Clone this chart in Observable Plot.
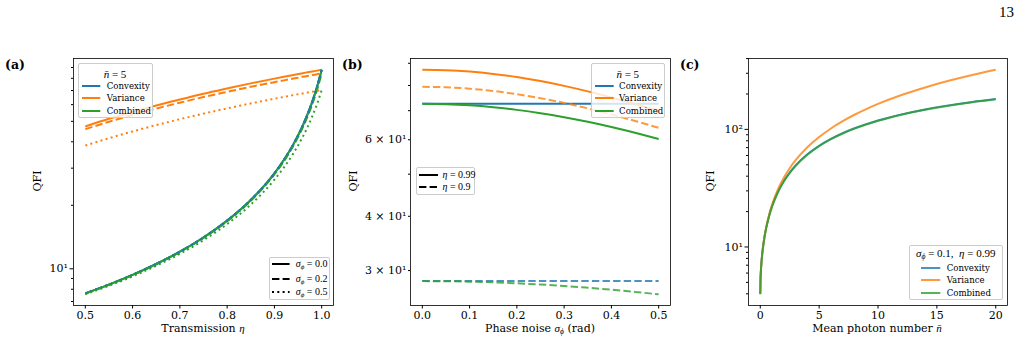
<!DOCTYPE html>
<html>
<head>
<meta charset="utf-8">
<script src="https://cdn.jsdelivr.net/npm/d3@7"></script>
<script src="https://cdn.jsdelivr.net/npm/@observablehq/plot@0.6"></script>
<style>
  body { margin: 0; background: #fff; }
  #fig { position: relative; width: 1020px; height: 344px; overflow: hidden;
         font-family: "DejaVu Serif", serif; color: #000; background: #fff; }
  .panel { position: absolute; top: 0; }
  svg.panel text { font-family: "DejaVu Serif", serif !important; font-size: 11px !important; fill: #000; }
  .tag { position: absolute; font-weight: bold; font-size: 12.5px; line-height: 14px; }
  .xlab { position: absolute; font-size: 11px; line-height: 13px; transform: translateX(-50%); white-space: nowrap; }
  .ylab { position: absolute; font-size: 11px; line-height: 13px; white-space: nowrap;
          transform: translate(-50%, -50%) rotate(-90deg); }
  .legend { position: absolute; box-sizing: border-box; background: rgba(255,255,255,0.8);
            border: 1px solid #ccc; border-radius: 2px; font-size: 8.6px; }
  .legend .row { position: absolute; line-height: 12px; white-space: nowrap; }
  .legend .ttl { position: absolute; left: 0; right: 0; text-align: center; line-height: 12px; font-size: 11px; white-space: nowrap; }
  .legend svg { position: absolute; overflow: visible; }
  .m { font-family: "Liberation Serif", serif; font-style: italic; }
  .r { font-family: "Liberation Serif", serif; }
  .row .m, .row .r { font-size: 10px; }
  sub { font-size: 70%; vertical-align: -0.25em; line-height: 0; }
  #page { position: absolute; right: 6px; top: 4px; font-family: "Liberation Serif", serif; font-size: 15px; }
</style>
</head>
<body>
<div id="fig"><div id="page">13</div></div>
<script>
// ---------- (a) QFI versus transmission, n̄ = 5 ----------
const etaGrid = [0.5, 0.55, 0.6, 0.65, 0.7, 0.75, 0.8, 0.85, 0.9, 0.92, 0.94, 0.96, 0.97, 0.98, 0.99, 1.0];
const convexityEta   = [7.65, 8.42, 9.36, 10.54, 12.05, 14.08, 16.92, 21.20, 28.37, 32.81, 38.90, 47.77, 53.92, 61.88, 72.61, 87.82];
const varianceEtaS00 = [47.3, 51.4, 55.4, 59.5, 63.5, 67.6, 71.6, 75.7, 79.7, 81.3, 82.9, 84.6, 85.4, 86.2, 87.0, 87.8];
const varianceEtaS02 = [45.9, 49.8, 53.6, 57.5, 61.3, 65.2, 69.0, 72.9, 76.7, 78.2, 79.8, 81.3, 82.1, 82.9, 83.6, 84.4];
const varianceEtaS05 = [38.4, 41.6, 44.8, 48.0, 51.2, 54.4, 57.6, 60.8, 64.0, 65.3, 66.6, 67.8, 68.5, 69.1, 69.8, 70.4];
const combinedEtaS00 = [7.65, 8.42, 9.36, 10.54, 12.05, 14.08, 16.92, 21.20, 28.37, 32.81, 38.90, 47.77, 53.92, 61.88, 72.61, 87.82];
const combinedEtaS02 = [7.64, 8.40, 9.34, 10.51, 12.01, 14.01, 16.81, 21.02, 28.04, 32.37, 38.27, 46.80, 52.67, 60.22, 70.30, 84.44];
const combinedEtaS05 = [7.57, 8.31, 9.21, 10.34, 11.77, 13.67, 16.29, 20.16, 26.45, 30.22, 35.24, 42.26, 46.93, 52.77, 60.27, 70.25];

// ---------- (b) QFI versus phase noise, n̄ = 5 ----------
const sigmaGrid = [0, 0.05, 0.1, 0.15, 0.2, 0.25, 0.3, 0.35, 0.4, 0.45, 0.5];
const convexitySig099 = [72.6, 72.6, 72.6, 72.6, 72.6, 72.6, 72.6, 72.6, 72.6, 72.6, 72.6];
const varianceSig099  = [86.98, 86.76, 86.12, 85.07, 83.64, 81.88, 79.83, 77.55, 75.10, 72.53, 69.91];
const combinedSig099  = [72.60, 72.45, 72.01, 71.29, 70.30, 69.07, 67.62, 65.99, 64.20, 62.28, 60.27];
const convexitySig090 = [28.37, 28.37, 28.37, 28.37, 28.37, 28.37, 28.37, 28.37, 28.37, 28.37, 28.37];
const varianceSig090  = [79.44, 79.24, 78.66, 77.70, 76.40, 74.80, 72.94, 70.87, 68.64, 66.30, 63.92];
const combinedSig090  = [28.37, 28.35, 28.29, 28.19, 28.04, 27.86, 27.65, 27.39, 27.11, 26.79, 26.45];

// ---------- (c) QFI versus mean photon number, σφ = 0.1, η = 0.99 ----------
const nbarGrid   = [0, 0.02, 0.05, 0.1, 0.2, 0.35, 0.5, 0.75, 1, 1.5, 2, 2.5, 3, 4, 5, 6, 7, 8, 9, 10, 12, 14, 16, 18, 20];
const convexityN = [4.00, 5.29, 6.20, 7.39, 9.39, 12.05, 14.53, 18.47, 22.24, 29.47, 36.36, 42.97, 49.33, 61.38, 72.61, 83.11, 92.94, 102.2, 110.9, 119.1, 134.2, 147.8, 160.0, 171.1, 181.2];
const varianceN  = [4.00, 5.27, 6.18, 7.37, 9.39, 12.11, 14.68, 18.83, 22.90, 30.91, 38.86, 46.76, 54.65, 70.40, 86.12, 101.8, 117.5, 133.2, 148.9, 164.6, 196.0, 227.4, 258.8, 290.1, 321.5];
const combinedN  = [3.96, 5.23, 6.14, 7.32, 9.30, 11.93, 14.39, 18.29, 22.03, 29.20, 36.03, 42.59, 48.91, 60.86, 72.02, 82.45, 92.24, 101.4, 110.1, 118.3, 133.3, 146.8, 159.0, 170.1, 180.2];

// ---------- tick values and labels ----------
const etaTicks = [0.5, 0.6, 0.7, 0.8, 0.9, 1.0];
const etaTickLabels = ["0.5", "0.6", "0.7", "0.8", "0.9", "1.0"];
const sigmaTicks = [0, 0.1, 0.2, 0.3, 0.4, 0.5];
const sigmaTickLabels = ["0.0", "0.1", "0.2", "0.3", "0.4", "0.5"];
const nbarTicks = [0, 5, 10, 15, 20];
const nbarTickLabels = ["0", "5", "10", "15", "20"];
const qfiMajorA = [10];
const qfiMajorLabelsA = ["10¹"];
const qfiMinorA = [7, 8, 9, 20, 30, 40, 50, 60, 70, 80, 90];
const qfiMajorB = [30, 40, 60];
const qfiMajorLabelsB = ["3 × 10¹", "4 × 10¹", "6 × 10¹"];
const qfiMinorB = [50, 70, 80, 90];
const qfiMajorC = [10, 100];
const qfiMajorLabelsC = ["10¹", "10²"];
const qfiMinorC = [4, 5, 6, 7, 8, 9, 20, 30, 40, 50, 60, 70, 80, 90, 200, 300, 400];

const BLUE = "#1f77b4", ORANGE = "#ff7f0e", GREEN = "#2ca02c";
const DASH = "7.4,3.2", DOT = "2,3.3";
const TICK_FONT = { fontFamily: '"DejaVu Serif", serif', fontSize: 11 };

const fig = document.getElementById("fig");

function labeler(ticks, labels) {
  return d => { const i = ticks.findIndex(t => Math.abs(t - d) < 1e-9); return i < 0 ? "" : labels[i]; };
}

function drawPanel(cfg) {
  const chart = Plot.plot({
    width: 340, height: 344,
    marginLeft: cfg.ml, marginRight: cfg.mr, marginTop: 58, marginBottom: 39,
    style: { background: "transparent", overflow: "visible", fontFamily: '"DejaVu Serif", serif', fontSize: "11px" },
    x: { domain: cfg.xDomain },
    y: { type: "log", domain: cfg.yDomain },
    marks: [
      ...cfg.series.map(s => Plot.line(s.x, {
        x: s.x, y: s.y, stroke: s.color, strokeWidth: 2,
        strokeDasharray: s.dash, strokeOpacity: s.alpha ?? 1,
        strokeLinecap: "butt", curve: "monotone-x"
      })),
      Plot.frame({ stroke: "#000", strokeWidth: 0.8 }),
      Plot.axisX({ ticks: cfg.xTicks, tickFormat: labeler(cfg.xTicks, cfg.xLabels), tickSize: 3.5, tickPadding: 2, label: null, ...TICK_FONT }),
      Plot.axisY({ ticks: cfg.yMinor, tickFormat: () => "", tickSize: 2, label: null }),
      Plot.axisY({ ticks: cfg.yMajor, tickFormat: labeler(cfg.yMajor, cfg.yLabels), tickSize: cfg.majorSize, tickPadding: 2, label: null, ...TICK_FONT })
    ]
  });
  chart.classList.add("panel");
  chart.style.left = cfg.left + "px";
  fig.appendChild(chart);
}

// σ loop order: convexity, variance, combined for each noise level
drawPanel({
  left: 0, ml: 73, mr: 7,
  xDomain: [0.475, 1.025], yDomain: [6.70, 99.3],
  xTicks: etaTicks, xLabels: etaTickLabels,
  yMajor: qfiMajorA, yLabels: qfiMajorLabelsA, yMinor: qfiMinorA, majorSize: 3.5,
  series: [
    { x: etaGrid, y: convexityEta, color: BLUE },
    { x: etaGrid, y: varianceEtaS00, color: ORANGE },
    { x: etaGrid, y: combinedEtaS00, color: GREEN },
    { x: etaGrid, y: convexityEta, color: BLUE, dash: DASH },
    { x: etaGrid, y: varianceEtaS02, color: ORANGE, dash: DASH },
    { x: etaGrid, y: combinedEtaS02, color: GREEN, dash: DASH },
    { x: etaGrid, y: convexityEta, color: BLUE, dash: DOT },
    { x: etaGrid, y: varianceEtaS05, color: ORANGE, dash: DOT },
    { x: etaGrid, y: combinedEtaS05, color: GREEN, dash: DOT }
  ]
});

drawPanel({
  left: 340, ml: 70, mr: 10,
  xDomain: [-0.025, 0.525], yDomain: [24.93, 92.3],
  xTicks: sigmaTicks, xLabels: sigmaTickLabels,
  yMajor: qfiMajorB, yLabels: qfiMajorLabelsB, yMinor: qfiMinorB, majorSize: 2,
  series: [
    { x: sigmaGrid, y: convexitySig099, color: BLUE },
    { x: sigmaGrid, y: varianceSig099, color: ORANGE },
    { x: sigmaGrid, y: combinedSig099, color: GREEN },
    { x: sigmaGrid, y: convexitySig090, color: BLUE, dash: DASH, alpha: 0.8 },
    { x: sigmaGrid, y: varianceSig090, color: ORANGE, dash: DASH, alpha: 0.8 },
    { x: sigmaGrid, y: combinedSig090, color: GREEN, dash: DASH, alpha: 0.8 }
  ]
});

drawPanel({
  left: 680, ml: 68, mr: 13,
  xDomain: [-1, 21], yDomain: [3.18, 400.6],
  xTicks: nbarTicks, xLabels: nbarTickLabels,
  yMajor: qfiMajorC, yLabels: qfiMajorLabelsC, yMinor: qfiMinorC, majorSize: 3.5,
  series: [
    { x: nbarGrid, y: convexityN, color: BLUE, alpha: 0.8 },
    { x: nbarGrid, y: varianceN, color: ORANGE, alpha: 0.8 },
    { x: nbarGrid, y: combinedN, color: GREEN, alpha: 0.8 }
  ]
});

// ---------- text around the panels ----------
function addDiv(cls, html, style) {
  const d = document.createElement("div");
  d.className = cls; d.innerHTML = html;
  Object.assign(d.style, style);
  fig.appendChild(d);
  return d;
}
addDiv("tag", "(a)", { left: "5px", top: "58px" });
addDiv("tag", "(b)", { left: "342px", top: "58px" });
addDiv("tag", "(c)", { left: "680px", top: "58px" });

addDiv("xlab", 'Transmission <span class="m">η</span>', { left: "203px", top: "322px" });
addDiv("xlab", 'Phase noise <span class="m">σ<sub>ϕ</sub></span> (rad)', { left: "540px", top: "322px" });
addDiv("xlab", 'Mean photon number <span class="m">n̄</span>', { left: "877px", top: "322px" });
addDiv("ylab", "QFI", { left: "37px", top: "181px" });
addDiv("ylab", "QFI", { left: "353px", top: "181px" });
addDiv("ylab", "QFI", { left: "710px", top: "181px" });

// ---------- legends ----------
function legend(o) {
  const box = addDiv("legend", "", { left: o.left + "px", top: o.top + "px", width: o.width + "px", height: o.height + "px" });
  if (o.title) {
    const t = document.createElement("div");
    t.className = "ttl"; t.innerHTML = o.title; t.style.top = (o.titleY - 6) + "px";
    box.appendChild(t);
  }
  o.items.forEach((it, i) => {
    const y = o.rowY[i];
    const svg = document.createElementNS("http://www.w3.org/2000/svg", "svg");
    const w = o.lineX1 - o.lineX0;
    svg.setAttribute("width", w); svg.setAttribute("height", 4);
    svg.style.left = o.lineX0 + "px"; svg.style.top = (y - 2) + "px";
    const ln = document.createElementNS("http://www.w3.org/2000/svg", "line");
    ln.setAttribute("x1", 0); ln.setAttribute("x2", w); ln.setAttribute("y1", 2); ln.setAttribute("y2", 2);
    ln.setAttribute("stroke", it.color); ln.setAttribute("stroke-width", 2);
    if (it.dash) ln.setAttribute("stroke-dasharray", it.dash);
    if (it.alpha) ln.setAttribute("stroke-opacity", it.alpha);
    svg.appendChild(ln); box.appendChild(svg);
    const lab = document.createElement("div");
    lab.className = "row"; lab.innerHTML = it.label;
    lab.style.left = o.textX + "px"; lab.style.top = (y - 6) + "px";
    box.appendChild(lab);
  });
}

const measureItems = alpha => [
  { label: "Convexity", color: BLUE, alpha },
  { label: "Variance", color: ORANGE, alpha },
  { label: "Combined", color: GREEN, alpha }
];

legend({ left: 77.5, top: 63, width: 75, height: 55, title: '<span class="m">n̄</span><span class="r"> = 5</span>', titleY: 9.5,
         items: measureItems(), rowY: [21.7, 34.4, 47.4], lineX0: 3.3, lineX1: 21.6, textX: 28.3 });
legend({ left: 269, top: 256.5, width: 61, height: 43.5,
         items: [
           { label: '<span class="m">σ<sub>ϕ</sub></span><span class="r"> = 0.0</span>', color: "#000" },
           { label: '<span class="m">σ<sub>ϕ</sub></span><span class="r"> = 0.2</span>', color: "#000", dash: DASH },
           { label: '<span class="m">σ<sub>ϕ</sub></span><span class="r"> = 0.5</span>', color: "#000", dash: DOT }
         ], rowY: [6, 21.3, 34], lineX0: 2.4, lineX1: 20, textX: 25.7 });
legend({ left: 590.5, top: 63, width: 74.5, height: 55, title: '<span class="m">n̄</span><span class="r"> = 5</span>', titleY: 9.5,
         items: measureItems(), rowY: [21.7, 34.4, 47.4], lineX0: 3.3, lineX1: 22, textX: 27.6 });
legend({ left: 415.5, top: 167, width: 59.5, height: 28,
         items: [
           { label: '<span class="m">η</span><span class="r"> = 0.99</span>', color: "#000" },
           { label: '<span class="m">η</span><span class="r"> = 0.9</span>', color: "#000", dash: DASH }
         ], rowY: [7, 19.4], lineX0: 2, lineX1: 21, textX: 26 });
legend({ left: 909, top: 245, width: 93.5, height: 55,
         title: '<span class="m">σ<sub>ϕ</sub></span><span class="r"> = 0.1,&nbsp; </span><span class="m">η</span><span class="r"> = 0.99</span>', titleY: 6.7,
         items: measureItems(0.8), rowY: [21.7, 34.3, 46.7], lineX0: 11.4, lineX1: 30.7, textX: 36.7 });
</script>
</body>
</html>
